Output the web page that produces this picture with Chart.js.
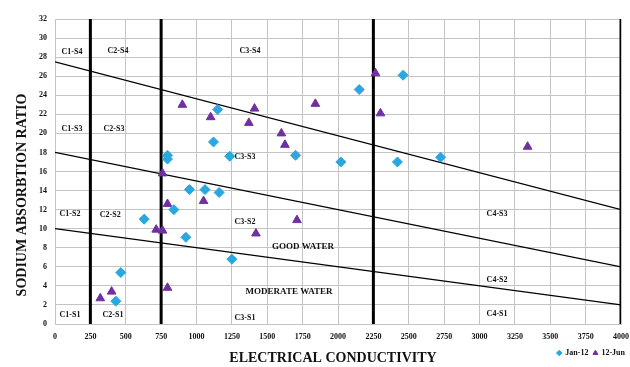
<!DOCTYPE html>
<html>
<head>
<meta charset="utf-8">
<script src="https://cdn.jsdelivr.net/npm/chart.js@4.4.1/dist/chart.umd.min.js"></script>
<style>
  html, body { margin: 0; padding: 0; background: #fff; }
  #wrap { width: 630px; height: 367px; }
</style>
</head>
<body>
<div id="wrap"><canvas id="chart"></canvas></div>
<script>
// Jan-12 samples (EC, SAR)
const janEC = [2460, 2150, 1150, 1120, 1700, 1235, 795, 795, 2020, 2420, 2725, 950, 1060, 1160, 840, 630, 925, 1250, 465, 430];
const janSAR = [26.1, 24.6, 22.5, 19.1, 17.7, 17.6, 17.7, 17.3, 17.0, 17.0, 17.5, 14.1, 14.1, 13.8, 12.0, 11.0, 9.1, 6.8, 5.4, 2.4];

// 12-Jun samples (EC, SAR)
const junEC = [900, 1100, 1410, 1370, 1600, 1625, 1840, 760, 2265, 2300, 3340, 1050, 795, 715, 760, 1420, 1710, 400, 320, 795];
const junSAR = [23.0, 21.7, 22.6, 21.1, 20.0, 18.8, 23.1, 15.8, 26.3, 22.1, 18.6, 12.9, 12.6, 9.9, 9.8, 9.5, 10.9, 3.4, 2.7, 3.8];

// class boundaries
const ecBounds = [250, 750, 2250, 4000];
const sarAtZero = [27.5, 18, 10];
const sarAtMax = [12, 6, 2];

const zoneLabels = ["C1-S4", "C2-S4", "C3-S4", "C1-S3", "C2-S3", "C3-S3", "C1-S2", "C2-S2", "C3-S2",
  "C4-S3", "C4-S2", "C4-S1", "C1-S1", "C2-S1", "C3-S1"];
const zoneEC = [120, 445, 1378, 120, 417, 1343, 106, 390, 1343, 3124, 3124, 3124, 106, 410, 1343];
const zoneSAR = [28.5, 28.7, 28.6, 20.5, 20.5, 17.5, 11.5, 11.4, 10.7, 11.5, 4.6, 1.05, 0.95, 0.95, 0.63];

const qualityLabels = ["GOOD WATER", "MODERATE WATER"];
const qualityEC = [1753, 1654];
const qualitySAR = [8.1, 3.4];

const serif = "'Liberation Serif', 'Times New Roman', serif";
const toPoints = (xs, ys) => xs.map((x, i) => ({ x, y: ys[i] }));

const boundaryLines = [
  ...ecBounds.map((x) => ({
    data: [{ x, y: 0 }, { x, y: 32 }],
    borderWidth: 3,
  })),
  ...sarAtZero.map((y, i) => ({
    data: [{ x: 0, y }, { x: 4000, y: sarAtMax[i] }],
    borderWidth: 1.2,
  })),
].map((line) => ({
  ...line,
  label: "",
  showLine: true,
  borderColor: "#000",
  pointRadius: 0,
  pointHoverRadius: 0,
  fill: false,
}));

const labelsPlugin = {
  id: "zoneText",
  afterDatasetsDraw(chart) {
    const { ctx, scales } = chart;
    ctx.save();
    ctx.fillStyle = "#111";
    ctx.textAlign = "center";
    ctx.textBaseline = "middle";
    ctx.font = `bold 8px ${serif}`;
    zoneLabels.forEach((text, i) => {
      ctx.fillText(text, scales.x.getPixelForValue(zoneEC[i]), scales.y.getPixelForValue(zoneSAR[i]));
    });
    ctx.font = `bold 9px ${serif}`;
    qualityLabels.forEach((text, i) => {
      ctx.fillText(text, scales.x.getPixelForValue(qualityEC[i]), scales.y.getPixelForValue(qualitySAR[i]));
    });

    // axis titles
    ctx.font = `bold 14px ${serif}`;
    ctx.fillText("ELECTRICAL CONDUCTIVITY", 333, 358);
    ctx.translate(22, 195);
    ctx.rotate(-Math.PI / 2);
    ctx.fillText("SODIUM ABSORBTION RATIO", 0, 0);
    ctx.restore();
  },
};

new Chart(document.getElementById("chart"), {
  type: "scatter",
  data: {
    datasets: [
      {
        label: "Jan-12",
        data: toPoints(janEC, janSAR),
        pointStyle: "rectRot",
        pointRadius: 5,
        backgroundColor: "#29a8e0",
        borderColor: "#29a8e0",
      },
      {
        label: "12-Jun",
        data: toPoints(junEC, junSAR),
        pointStyle: "triangle",
        pointRadius: 5,
        backgroundColor: "#7030a0",
        borderColor: "#7030a0",
      },
      ...boundaryLines,
    ],
  },
  options: {
    responsive: true,
    maintainAspectRatio: false,
    animation: false,
    layout: { padding: { top: 19, right: 0, bottom: 0, left: 0 } },
    plugins: {
      tooltip: { enabled: false },
      legend: {
        position: "bottom",
        align: "end",
        labels: {
          filter: (item) => item.datasetIndex < 2,
          usePointStyle: true,
          boxWidth: 4,
          boxHeight: 4,
          padding: 5,
          color: "#111",
          font: { family: serif, size: 8, weight: "bold" },
        },
      },
    },
    scales: {
      x: {
        type: "linear",
        min: 0,
        max: 4000,
        afterFit(scale) {
          scale.height = 20;
          scale.paddingLeft = 0;
          scale.paddingRight = 9;
        },
        ticks: {
          stepSize: 250,
          color: "#111",
          padding: 8,
          font: { family: serif, size: 8, weight: "bold" },
          callback: (value) => String(value),
        },
        grid: { color: "#c4c4c4", drawTicks: false },
        border: { color: "#c4c4c4" },
      },
      y: {
        min: 0,
        max: 32,
        afterFit(scale) { scale.width = 55; },
        ticks: {
          stepSize: 2,
          color: "#111",
          padding: 8,
          font: { family: serif, size: 8, weight: "bold" },
        },
        grid: { color: "#c4c4c4", drawTicks: false },
        border: { color: "#c4c4c4" },
      },
    },
  },
  plugins: [labelsPlugin],
});
</script>
</body>
</html>
